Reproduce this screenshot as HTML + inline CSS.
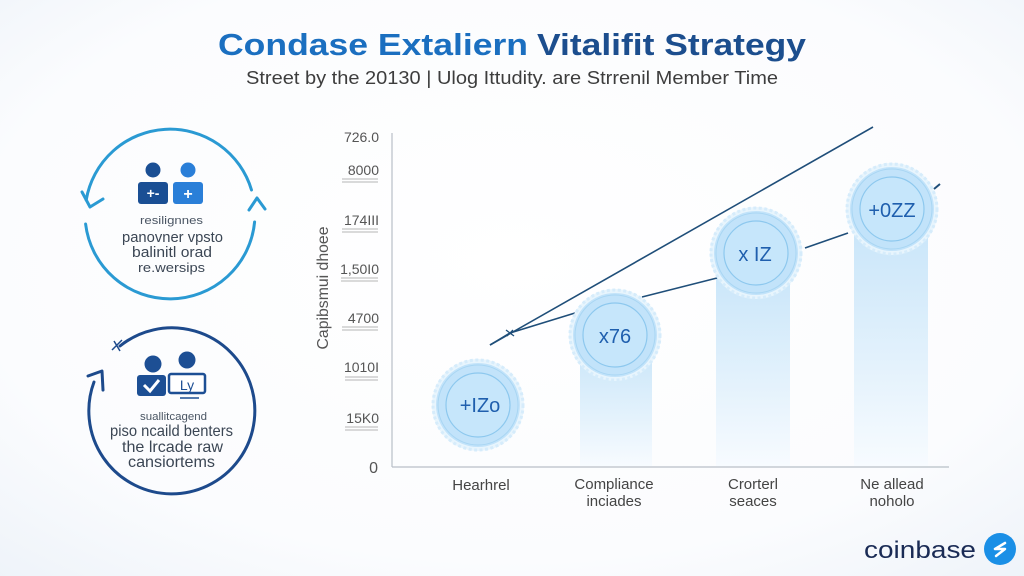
<!DOCTYPE html>
<html>
<head>
<meta charset="utf-8">
<style>
  html,body{margin:0;padding:0;width:1024px;height:576px;overflow:hidden;background:#fff;}
  svg{display:block;}
  text{font-family:"Liberation Sans", Arial, sans-serif;}
</style>
</head>
<body>
<svg width="1024" height="576" viewBox="0 0 1024 576" xmlns="http://www.w3.org/2000/svg">
  <defs>
    <radialGradient id="bg" cx="50%" cy="45%" r="75%">
      <stop offset="0" stop-color="#ffffff"/>
      <stop offset="0.7" stop-color="#fbfcfe"/>
      <stop offset="1" stop-color="#eef3f9"/>
    </radialGradient>
    <linearGradient id="bar" x1="0" y1="0" x2="0" y2="1">
      <stop offset="0" stop-color="#c8e5f9"/>
      <stop offset="0.6" stop-color="#e4f2fc"/>
      <stop offset="1" stop-color="#f7fbff"/>
    </linearGradient>
    <g id="badge">
      <circle r="46" fill="#e8f5fd"/>
      <circle r="45" fill="none" stroke="#d6ecfb" stroke-width="3" stroke-dasharray="3 2.5"/>
      <circle r="42" fill="#c2e3fa"/>
      <circle r="40" fill="none" stroke="#a9d6f3" stroke-width="1"/>
      <circle r="32" fill="#c6e6fb" stroke="#8dc8ee" stroke-width="1.2"/>
    </g>
  </defs>

  <rect width="1024" height="576" fill="url(#bg)"/>

  <!-- Title -->
  <text x="218" y="55" font-size="31" font-weight="bold" fill="#1b6fc0" textLength="310" lengthAdjust="spacingAndGlyphs">Condase Extaliern</text>
  <text x="537" y="55" font-size="31" font-weight="bold" fill="#1c4e8e" textLength="269" lengthAdjust="spacingAndGlyphs">Vitalifit Strategy</text>
  <text x="246" y="84" font-size="18" fill="#3d3d3d" textLength="532" lengthAdjust="spacingAndGlyphs">Street by the 20130 | Ulog Ittudity. are Strrenil Member Time</text>

  <!-- Left circle 1 -->
  <g fill="none" stroke="#2a9ad3" stroke-width="3" stroke-linecap="round" stroke-linejoin="round">
    <path d="M 86.2 200 A 85 85 0 0 1 251.5 190"/>
    <path d="M 254.6 222 A 85 85 0 0 1 85.6 224"/>
    <path d="M 82 192 L 90 207 L 103 199"/>
    <path d="M 249 210 L 257 198 L 265 209"/>
  </g>
  <circle cx="153" cy="170" r="7.5" fill="#1a4f94"/>
  <rect x="138" y="182" width="30" height="22" rx="3" fill="#1a4f94"/>
  <text x="153" y="198" font-size="14" font-weight="bold" fill="#fff" text-anchor="middle">+-</text>
  <circle cx="188" cy="170" r="7.5" fill="#2a7fd8"/>
  <rect x="173" y="182" width="30" height="22" rx="3" fill="#2a7fd8"/>
  <text x="188" y="199" font-size="16" font-weight="bold" fill="#fff" text-anchor="middle">+</text>
  <text x="140" y="224" font-size="11" fill="#4a5563" textLength="63" lengthAdjust="spacingAndGlyphs">resilignnes</text>
  <text x="122" y="242" font-size="15" fill="#3b4654" textLength="101" lengthAdjust="spacingAndGlyphs">panovner vpsto</text>
  <text x="132" y="257" font-size="15" fill="#3b4654" textLength="80" lengthAdjust="spacingAndGlyphs">balinitl orad</text>
  <text x="138" y="272" font-size="13" fill="#3b4654" textLength="67" lengthAdjust="spacingAndGlyphs">re.wersips</text>

  <!-- Left circle 2 -->
  <g fill="none" stroke="#1d4a8c" stroke-width="3" stroke-linecap="round" stroke-linejoin="round">
    <path d="M 120 346 A 83 83 0 1 1 94 382"/>
    <path d="M 88 376 L 102 371 L 103 390"/>
  </g>
  <path d="M 112 350 L 122 340 M 114 341 L 120 351" stroke="#1d4a8c" stroke-width="1.5"/>
  <circle cx="153" cy="364" r="8.5" fill="#1d4f94"/>
  <rect x="137" y="375" width="29" height="21" rx="3" fill="#1d4f94"/>
  <path d="M 144 385 L 150 391 L 159 380" fill="none" stroke="#fff" stroke-width="3"/>
  <circle cx="187" cy="360" r="8.5" fill="#1d4f94"/>
  <rect x="169" y="374" width="36" height="19" rx="2" fill="#fff" stroke="#1d4f94" stroke-width="2.5"/>
  <text x="187" y="390" font-size="14" fill="#1d4f94" text-anchor="middle">Ly</text>
  <line x1="180" y1="398" x2="199" y2="398" stroke="#1d4f94" stroke-width="1.5"/>
  <text x="140" y="420" font-size="11" fill="#4a5563" textLength="67" lengthAdjust="spacingAndGlyphs">suallitcagend</text>
  <text x="110" y="436" font-size="16" fill="#3b4654" textLength="123" lengthAdjust="spacingAndGlyphs">piso ncaild benters</text>
  <text x="122" y="452" font-size="16" fill="#3b4654" textLength="101" lengthAdjust="spacingAndGlyphs">the lrcade raw</text>
  <text x="128" y="467" font-size="16" fill="#3b4654" textLength="87" lengthAdjust="spacingAndGlyphs">cansiortems</text>

  <!-- Y axis -->
  <line x1="392" y1="133" x2="392" y2="467" stroke="#b8bfc7" stroke-width="1.2"/>
  <line x1="392" y1="467" x2="949" y2="467" stroke="#b8bfc7" stroke-width="1.2"/>
  <g font-size="14" fill="#555" text-anchor="end">
    <text x="379" y="142">726.0</text>
    <text x="379" y="175">8000</text>
    <text x="379" y="225">174III</text>
    <text x="379" y="274">1,50I0</text>
    <text x="379" y="323">4700</text>
    <text x="379" y="372">1010I</text>
    <text x="379" y="423">15K0</text>
    <text x="378" y="473" font-size="16">0</text>
  </g>
  <g stroke="#b5b5b5" stroke-width="1">
    <line x1="342" y1="179" x2="378" y2="179"/><line x1="342" y1="182" x2="378" y2="182"/>
    <line x1="342" y1="229" x2="378" y2="229"/><line x1="342" y1="232" x2="378" y2="232"/>
    <line x1="341" y1="278" x2="378" y2="278"/><line x1="341" y1="281" x2="378" y2="281"/>
    <line x1="342" y1="327" x2="378" y2="327"/><line x1="342" y1="330" x2="378" y2="330"/>
    <line x1="345" y1="377" x2="378" y2="377"/><line x1="345" y1="380" x2="378" y2="380"/>
    <line x1="345" y1="427" x2="378" y2="427"/><line x1="345" y1="430" x2="378" y2="430"/>
  </g>
  <text transform="translate(328,288) rotate(-90)" font-size="16" fill="#555" text-anchor="middle" textLength="123" lengthAdjust="spacingAndGlyphs">Capibsmui dhoee</text>

  <!-- Bars -->
  <rect x="580" y="345" width="72" height="121" fill="url(#bar)"/>
  <rect x="716" y="265" width="74" height="201" fill="url(#bar)"/>
  <rect x="854" y="220" width="74" height="246" fill="url(#bar)"/>

  <!-- Lines -->
  <g stroke="#1f4e79" stroke-width="1.6" fill="none">
    <line x1="490" y1="345" x2="873" y2="127"/>
    <polyline points="490,345 510,333 575,313"/>
    <line x1="642" y1="297" x2="717" y2="278"/>
    <line x1="805" y1="248" x2="848" y2="233"/>
  </g>
  <path d="M 506 330 L 514 336 M 507 336 L 513 330" stroke="#1f4e79" stroke-width="1.3"/>
  <path d="M 934 189 L 940 184" stroke="#1f4e79" stroke-width="2"/>

  <!-- Badges -->
  <use href="#badge" x="478" y="405"/>
  <use href="#badge" x="615" y="335"/>
  <use href="#badge" x="756" y="253"/>
  <use href="#badge" x="892" y="209"/>
  <g font-size="20" fill="#1f5fae" text-anchor="middle">
    <text x="480" y="412">+IZo</text>
    <text x="615" y="343">x76</text>
    <text x="755" y="261">x IZ</text>
    <text x="892" y="217">+0ZZ</text>
  </g>

  <!-- X labels -->
  <g font-size="15" fill="#444" text-anchor="middle">
    <text x="481" y="490">Hearhrel</text>
    <text x="614" y="489">Compliance</text>
    <text x="614" y="506">inciades</text>
    <text x="753" y="489">Crorterl</text>
    <text x="753" y="506">seaces</text>
    <text x="892" y="489">Ne allead</text>
    <text x="892" y="506">noholo</text>
  </g>

  <!-- Logo -->
  <text x="864" y="558" font-size="24" fill="#1a2b55" textLength="112" lengthAdjust="spacingAndGlyphs">coinbase</text>
  <circle cx="1000" cy="549" r="16" fill="#1a8fe6"/>
  <path d="M 1005 543 L 995 549 L 1005 549 L 996 556" fill="none" stroke="#fff" stroke-width="2.5" stroke-linecap="round" stroke-linejoin="round"/>
</svg>
</body>
</html>
